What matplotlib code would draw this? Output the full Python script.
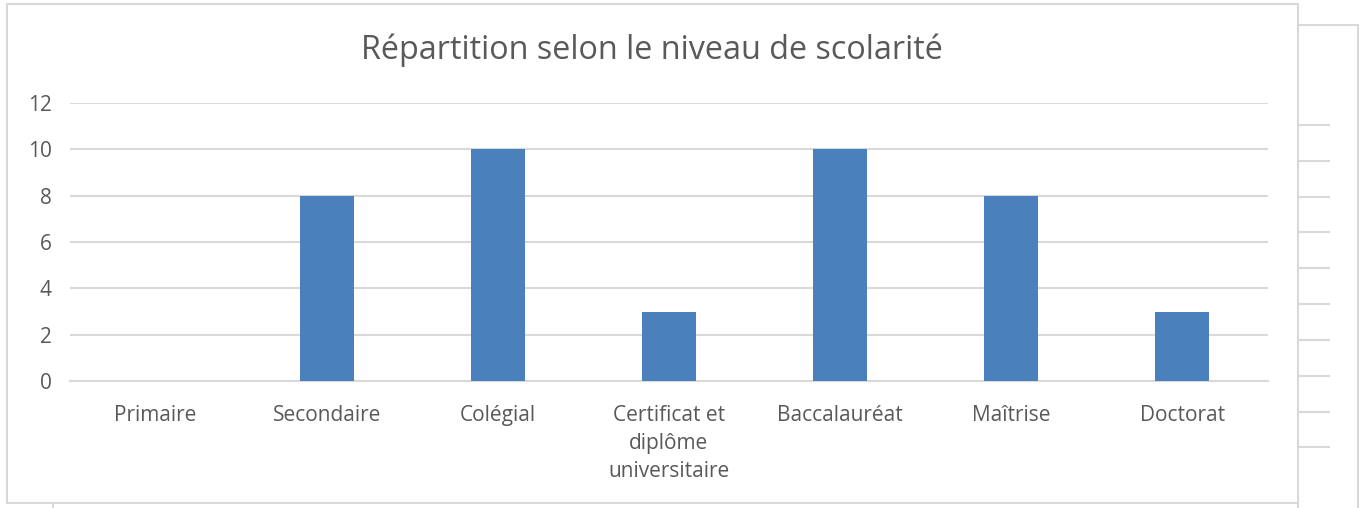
import matplotlib.pyplot as plt
from matplotlib.lines import Line2D
from matplotlib.patches import Rectangle

# data
categories = ['Primaire', 'Secondaire', 'Colégial', 'Certificat et\ndiplôme\nuniversitaire',
              'Baccalauréat', 'Maîtrise', 'Doctorat']
values = [0, 8, 10, 3, 10, 8, 3]
yticks = [0, 2, 4, 6, 8, 10, 12]
title = 'Répartition selon le niveau de scolarité'

W, H = 1364, 508
text_gray = '#595959'
grid_gray = '#D9D9D9'
bar_blue = '#4A81BD'

plt.rcParams['font.family'] = ['Open Sans', 'DejaVu Sans']

fig = plt.figure(figsize=(W / 100, H / 100), dpi=100)
fig.patch.set_facecolor('white')

# pixel -> figure coords helpers
def fx(px):
    return px / W

def fy(py):
    return 1 - py / H

# chart in the background (right edge)
fig.add_artist(Rectangle((fx(1298), fy(520)), fx(1358) - fx(1298), fy(25) - fy(520),
                         transform=fig.transFigure, fill=False, edgecolor=grid_gray, lw=1.5,
                         zorder=-2))
for py in [125, 161, 197, 232, 268, 304, 340, 376, 412, 447]:
    fig.add_artist(Line2D([fx(1298), fx(1329)], [fy(py), fy(py)], transform=fig.transFigure,
                          color=grid_gray, lw=1.5, zorder=-2))
fig.add_artist(Line2D([fx(53), fx(53)], [fy(503), fy(510)], transform=fig.transFigure,
                      color=grid_gray, lw=1.5, zorder=-2))

# main chart border
fig.add_artist(Rectangle((fx(7), fy(503)), fx(1298) - fx(7), fy(4) - fy(503),
                         transform=fig.transFigure, facecolor='white', edgecolor=grid_gray,
                         lw=1.5, zorder=-1))

ax = fig.add_axes([fx(70), fy(381), fx(1268) - fx(70), fy(103) - fy(381)])
ax.set_facecolor('none')
x = range(len(categories))
ax.bar(x, values, width=0.316, color=bar_blue, zorder=3)

ax.set_xlim(-0.5, len(categories) - 0.5)
ax.set_ylim(0, 12)
ax.set_yticks(yticks)
ax.set_xticks(list(x))
ax.set_xticklabels(categories, linespacing=1.45)
ax.grid(axis='y', color=grid_gray, lw=1.5, zorder=0)
for s in ['top', 'right', 'left']:
    ax.spines[s].set_visible(False)
ax.spines['bottom'].set_color(grid_gray)
ax.spines['bottom'].set_linewidth(1.5)
ax.tick_params(axis='both', length=0, labelsize=15, labelcolor=text_gray)
ax.tick_params(axis='x', pad=17)
ax.tick_params(axis='y', pad=13)

fig.text(fx(652), fy(50), title, ha='center', va='center', fontsize=23.3, color=text_gray)

fig.savefig('out.png', dpi=100)
